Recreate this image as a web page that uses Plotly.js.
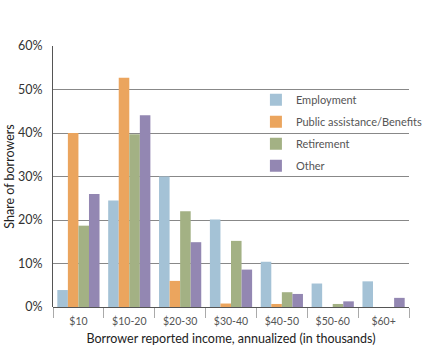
<!DOCTYPE html>
<html><head><meta charset="utf-8">
<script src="https://cdn.plot.ly/plotly-3.0.1.min.js"></script>
<style>html,body{margin:0;padding:0;background:#fff}#chart{width:440px;height:351px}</style>
</head><body><div id="chart"></div>
<script>
const categories = ["$10","$10-20","$20-30","$30-40","$40-50","$50-60","$60+"];
const employment = [3.9, 24.5, 30.0, 20.1, 10.4, 5.4, 5.9];
const publicAssistance = [40.0, 52.7, 6.0, 0.8, 0.7, 0, 0];
const retirement = [18.7, 39.7, 22.0, 15.2, 3.4, 0.7, 0];
const other = [26.0, 44.1, 14.9, 8.6, 3.0, 1.3, 2.1];
const seriesNames = ["Employment","Public assistance/Benefits","Retirement","Other"];
const colors = ["#a4c2d6","#eba55e","#a3b184","#9387b2"];
const series = [employment, publicAssistance, retirement, other];

const traces = series.map((vals, i) => ({
  type: "bar", name: seriesNames[i], x: categories, y: vals,
  marker: {color: colors[i], line: {width: 0}},
  legendgroup: "g" + i,
  hoverinfo: "x+y+name"
}));

const layout = {
  width: 440, height: 351,
  margin: {l: 53, r: 12, t: 46, b: 44},
  paper_bgcolor: "#fff", plot_bgcolor: "#fff",
  font: {family: "Lato, 'Open Sans', sans-serif", color: "#333"},
  barmode: "group", bargap: 0.17, bargroupgap: 0,
  showlegend: true,
  legend: {x: 0.57, y: 0.85, xanchor: "left", yanchor: "top", bgcolor: "rgba(0,0,0,0)",
           font: {size: 11, color: "#555"}, tracegroupgap: 3, traceorder: "grouped"},
  xaxis: {
    type: "category", tickson: "boundaries", ticks: "outside", ticklen: 10, tickcolor: "#aaa",
    tickfont: {size: 10.5, color: "#555"}, showline: false, showgrid: false, ticklabelstandoff: 6,
    title: {text: "Borrower reported income, annualized (in thousands)", font: {size: 12.5, color: "#222"}, standoff: 8}
  },
  yaxis: {
    range: [0, 60], tickvals: [0,10,20,30,40,50,60], ticktext: ["0%","10%","20%","30%","40%","50%","60%"],
    tickfont: {size: 12.5, color: "#333"}, showgrid: true, gridcolor: "#888", gridwidth: 1,
    zeroline: true, zerolinecolor: "#555", zerolinewidth: 1,
    showline: true, linecolor: "#555", linewidth: 1, ticks: "", ticklabelstandoff: 7,
    title: {text: "Share of borrowers", font: {size: 12.5, color: "#222"}, standoff: 0}
  }
};
Plotly.newPlot("chart", traces, layout, {displayModeBar: false, staticPlot: true});
</script></body></html>
